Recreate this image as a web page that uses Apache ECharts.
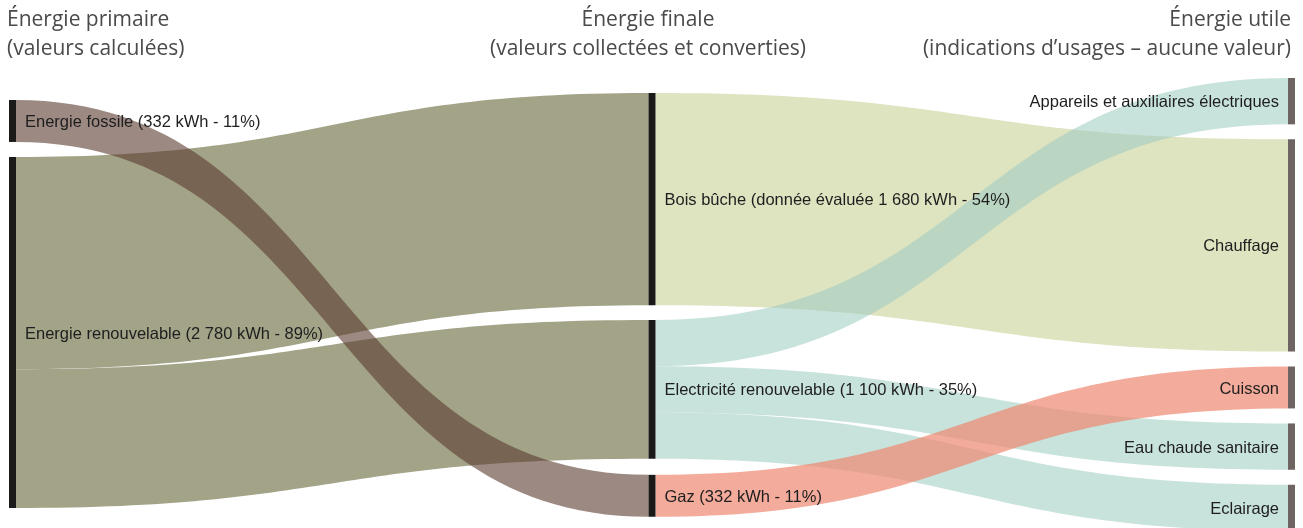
<!DOCTYPE html>
<html>
<head>
<meta charset="utf-8">
<script src="https://cdn.jsdelivr.net/npm/echarts@6/dist/echarts.min.js"></script>
<style>
  html, body { margin: 0; padding: 0; background: #ffffff; }
  #chart { width: 1303px; height: 528px; }
</style>
</head>
<body>
<div id="chart"></div>
<script>
// Column headers (two lines each)
const columnHeaders = [
  'Énergie primaire\n(valeurs calculées)',
  'Énergie finale\n(valeurs collectées et converties)',
  'Énergie utile\n(indications d\u2019usages \u2013 aucune valeur)'
];

// Nodes, by column
const primaryNodes = ['Energie fossile', 'Energie renouvelable'];
const finalNodes = ['Bois bûche', 'Electricité renouvelable', 'Gaz'];
const usefulNodes = ['Appareils et auxiliaires électriques', 'Chauffage', 'Cuisson', 'Eau chaude sanitaire', 'Eclairage'];

// Node labels shown on the chart
const nodeLabels = {
  'Energie fossile': 'Energie fossile (332 kWh - 11%)',
  'Energie renouvelable': 'Energie renouvelable (2 780 kWh - 89%)',
  'Bois bûche': 'Bois bûche (donnée évaluée 1 680 kWh - 54%)',
  'Electricité renouvelable': 'Electricité renouvelable (1 100 kWh - 35%)',
  'Gaz': 'Gaz (332 kWh - 11%)'
};

// Flows (kWh): source, target, value
const linkSources = ['Energie renouvelable', 'Energie renouvelable', 'Energie fossile', 'Bois bûche', 'Electricité renouvelable', 'Electricité renouvelable', 'Electricité renouvelable', 'Gaz'];
const linkTargets = ['Bois bûche', 'Electricité renouvelable', 'Gaz', 'Chauffage', 'Appareils et auxiliaires électriques', 'Eau chaude sanitaire', 'Eclairage', 'Cuisson'];
const linkValues = [1680, 1100, 332, 1680, 367, 367, 366, 332];

// Vertical placement of left / middle nodes within the layout box (fraction of its height)
const nodeOffsets = {
  'Energie fossile': 0.0486,
  'Energie renouvelable': 0.1744,
  'Bois bûche': 0.0331,
  'Electricité renouvelable': 0.534,
  'Gaz': 0.876
};

const linkColors = {
  'Energie renouvelable': { color: '#a2a387', opacity: 1 },
  'Energie fossile': { color: '#5a3a2e', opacity: 0.6 },
  'Bois bûche': { color: '#dee3c0', opacity: 1 },
  'Electricité renouvelable': { color: '#a0cdc3', opacity: 0.58 },
  'Gaz': { color: '#ee8a74', opacity: 0.72 }
};

const labelFont = { fontFamily: '"Liberation Sans", Arial, sans-serif', fontSize: 16.5, color: '#1e1e1e', distance: 9, offset: [0, 1.5] };

const nodes = [];
primaryNodes.concat(finalNodes).forEach(function (name) {
  nodes.push({
    name: name,
    localY: nodeOffsets[name],
    itemStyle: { color: '#1c1a18' },
    label: Object.assign({ position: 'right', formatter: nodeLabels[name] }, labelFont)
  });
});
usefulNodes.forEach(function (name) {
  nodes.push({
    name: name,
    itemStyle: { color: '#6e6462' },
    label: Object.assign({ position: 'left', formatter: name }, labelFont)
  });
});

const links = linkSources.map(function (s, i) {
  return {
    source: s,
    target: linkTargets[i],
    value: linkValues[i],
    lineStyle: { color: linkColors[s].color, opacity: linkColors[s].opacity, curveness: 0.5 }
  };
});

const headerFont = '400 21px "Open Sans", "Lato", sans-serif';
function header(text, x, align) {
  return {
    type: 'text',
    x: x,
    y: 6,
    silent: true,
    style: { text: text, font: headerFont, fill: '#4a4a4a', align: align, verticalAlign: 'top', lineHeight: 29 }
  };
}

const chart = echarts.init(document.getElementById('chart'), null, { renderer: 'canvas' });
chart.setOption({
  backgroundColor: '#ffffff',
  animation: false,
  graphic: [
    header(columnHeaders[0], 7, 'left'),
    header(columnHeaders[1], 648, 'center'),
    header(columnHeaders[2], 1291, 'right')
  ],
  series: [{
    type: 'sankey',
    left: 9,
    right: 8,
    top: 78,
    height: 453,
    nodeWidth: 7,
    nodeGap: 15,
    layoutIterations: 0,
    draggable: false,
    emphasis: { disabled: true },
    data: nodes,
    links: links
  }]
});
</script>
</body>
</html>
